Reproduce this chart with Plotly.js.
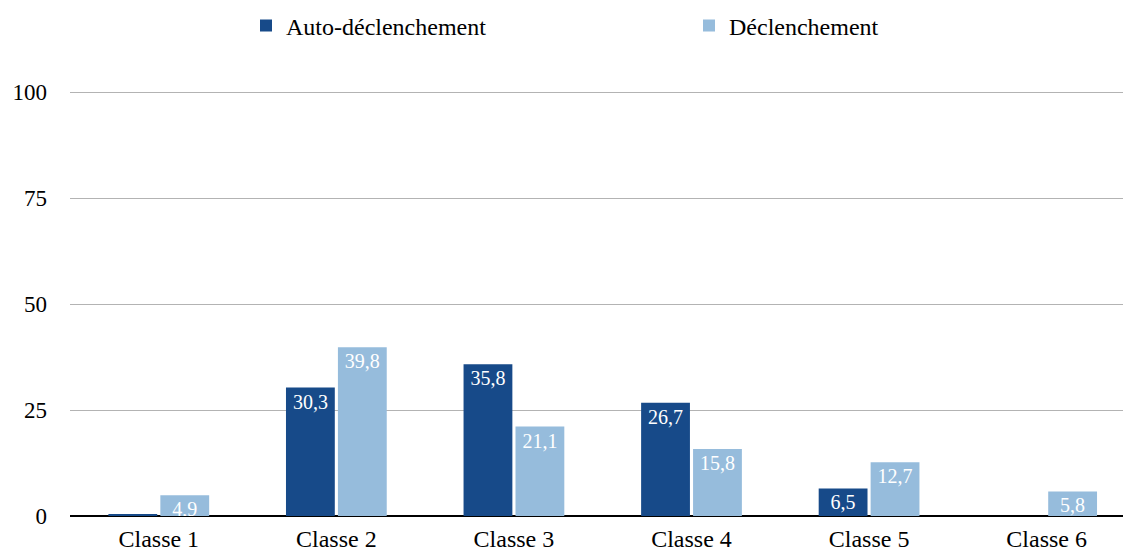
<!DOCTYPE html>
<html>
<head>
<meta charset="utf-8">
<script src="https://cdn.plot.ly/plotly-3.0.1.min.js"></script>
<style>html,body{margin:0;padding:0;background:#fff;}#chart{width:1123px;height:552px;}</style>
</head>
<body>
<div id="chart"></div>
<script>
const categories = ["Classe 1", "Classe 2", "Classe 3", "Classe 4", "Classe 5", "Classe 6"];
const autoDeclenchement = [0.5, 30.3, 35.8, 26.7, 6.5, 0];
const declenchement = [4.9, 39.8, 21.1, 15.8, 12.7, 5.8];
const autoLabels = ["", "30,3", "35,8", "26,7", "6,5", ""];
const declLabels = ["4,9", "39,8", "21,1", "15,8", "12,7", "5,8"];
const yTicks = [0, 25, 50, 75, 100];

const FONT = 'Liberation Serif';
const labelFont = {family: FONT, size: 20, color: "#ffffff"};

const traces = [
  {type: "bar", name: "Auto-déclenchement", x: categories, y: autoDeclenchement,
   text: autoLabels, textposition: "inside", insidetextanchor: "end", constraintext: "none",
   textfont: labelFont, marker: {color: "#174a89"}, hoverinfo: "none", legend: "legend"},
  {type: "bar", name: "Déclenchement", x: categories, y: declenchement,
   text: declLabels, textposition: "inside", insidetextanchor: "end", constraintext: "none",
   textfont: labelFont, marker: {color: "#96bcdc"}, hoverinfo: "none", legend: "legend2"}
];

const legendCommon = {orientation: "h", xref: "container", yref: "container",
  xanchor: "left", yanchor: "middle", y: 1 - 26 / 552,
  bgcolor: "rgba(0,0,0,0)", font: {family: FONT, size: 24, color: "#000"}};

const layout = {
  width: 1123, height: 552,
  margin: {l: 70, r: 0, t: 90, b: 36, pad: 0, autoexpand: false},
  paper_bgcolor: "#fff", plot_bgcolor: "#fff",
  font: {family: FONT, size: 24, color: "#000"},
  barmode: "group", bargap: 0.415, bargroupgap: 0.06,
  showlegend: true,
  legend: Object.assign({}, legendCommon, {x: 246 / 1123}),
  legend2: Object.assign({}, legendCommon, {x: 689 / 1123}),
  xaxis: {type: "category", range: [-0.5, 5.43], showgrid: false, zeroline: false,
          showline: false, ticks: "", ticklabelstandoff: 6,
          tickfont: {family: FONT, size: 24}, automargin: false},
  yaxis: {range: [0, 100.5], tickvals: yTicks, ticktext: yTicks.map(String),
          showgrid: true, gridcolor: "#b3b3b3", gridwidth: 1,
          zeroline: true, zerolinecolor: "#000", zerolinewidth: 1.5,
          showline: false, ticks: "", ticklabelstandoff: 22,
          tickfont: {family: FONT, size: 23}, automargin: false}
};

Plotly.newPlot("chart", traces, layout, {staticPlot: true, displayModeBar: false});
</script>
</body>
</html>
